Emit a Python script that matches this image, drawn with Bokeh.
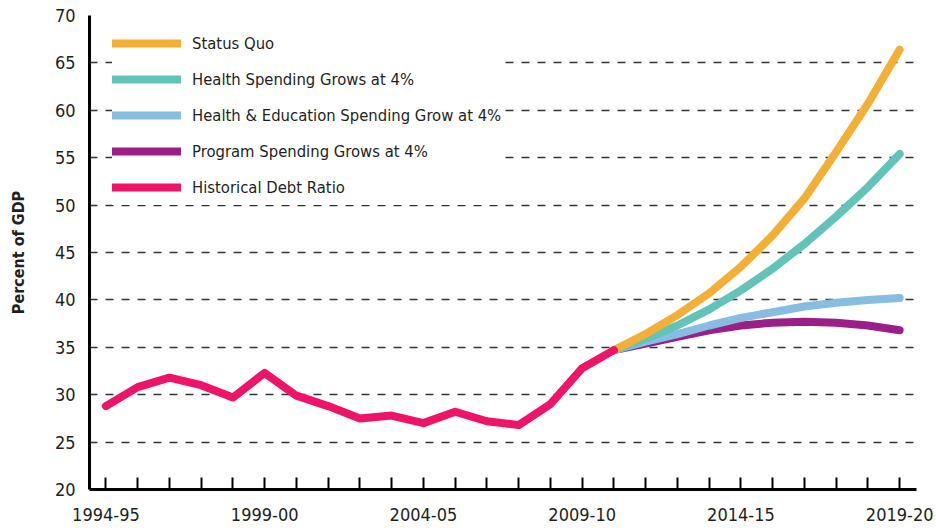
from bokeh.plotting import figure
from bokeh.models import FixedTicker, Legend, LegendItem, Range1d
from bokeh.embed import file_html
from bokeh.resources import INLINE

# ---- data ----
years = ["1994-95", "1995-96", "1996-97", "1997-98", "1998-99", "1999-00",
         "2000-01", "2001-02", "2002-03", "2003-04", "2004-05", "2005-06",
         "2006-07", "2007-08", "2008-09", "2009-10", "2010-11", "2011-12",
         "2012-13", "2013-14", "2014-15", "2015-16", "2016-17", "2017-18",
         "2018-19", "2019-20"]
labelled_years = ["1994-95", "1999-00", "2004-05", "2009-10", "2014-15", "2019-20"]
y_ticks = [20, 25, 30, 35, 40, 45, 50, 55, 60, 65, 70]

historical = [28.8, 30.8, 31.8, 31.0, 29.7, 32.3, 29.9, 28.8, 27.5, 27.8,
              27.0, 28.2, 27.2, 26.8, 29.0, 32.8, 34.7]
projection_start = "2010-11"
status_quo = [34.7, 36.4, 38.4, 40.7, 43.5, 46.8, 50.7, 55.6, 60.7, 66.4]
health_4 = [34.7, 35.9, 37.3, 39.0, 41.0, 43.3, 45.9, 48.8, 51.9, 55.4]
health_edu_4 = [34.7, 35.6, 36.4, 37.3, 38.1, 38.7, 39.3, 39.7, 40.0, 40.2]
program_4 = [34.7, 35.4, 36.1, 36.8, 37.3, 37.6, 37.7, 37.6, 37.3, 36.8]

series_names = ["Status Quo", "Health Spending Grows at 4%",
                "Health & Education Spending Grow at 4%",
                "Program Spending Grows at 4%", "Historical Debt Ratio"]
colors = {"Status Quo": "#F3AF36",
          "Health Spending Grows at 4%": "#62C4B8",
          "Health & Education Spending Grow at 4%": "#86BDE0",
          "Program Spending Grows at 4%": "#9C1F89",
          "Historical Debt Ratio": "#EE1468"}

FONT = "'DejaVu Sans Condensed', Roboto, sans-serif"
TEXT = "#231F20"

idx = {y: i for i, y in enumerate(years)}
hist_x = [idx[y] for y in years[:len(historical)]]
p0 = idx[projection_start]
proj_x = list(range(p0, p0 + len(status_quo)))

p = figure(width=936, height=531, output_backend="svg", toolbar_location=None,
           x_range=Range1d(-0.517, 25.53), y_range=Range1d(20, 70),
           min_border_left=89, min_border_right=20, min_border_top=15,
           min_border_bottom=42)
p.outline_line_color = None
p.background_fill_color = "white"

line_kw = dict(line_width=8, line_cap="round", line_join="round")
r_prog = p.line(proj_x, program_4, color=colors["Program Spending Grows at 4%"], **line_kw)
r_hedu = p.line(proj_x, health_edu_4, color=colors["Health & Education Spending Grow at 4%"], **line_kw)
r_health = p.line(proj_x, health_4, color=colors["Health Spending Grows at 4%"], **line_kw)
r_sq = p.line(proj_x, status_quo, color=colors["Status Quo"], **line_kw)
r_hist = p.line(hist_x, historical, color=colors["Historical Debt Ratio"], **line_kw)

renderers = {"Status Quo": r_sq, "Health Spending Grows at 4%": r_health,
             "Health & Education Spending Grow at 4%": r_hedu,
             "Program Spending Grows at 4%": r_prog,
             "Historical Debt Ratio": r_hist}

legend = Legend(items=[LegendItem(label=n, renderers=[renderers[n]]) for n in series_names],
                location=(23, 284), padding=0, margin=0, spacing=0,
                glyph_width=69, glyph_height=36, label_height=36,
                label_standoff=11, border_line_color=None,
                background_fill_color="white", background_fill_alpha=1,
                label_text_font=FONT, label_text_font_size="16.5px",
                label_text_color=TEXT)
p.add_layout(legend)

# axes
p.xaxis.ticker = FixedTicker(ticks=list(range(len(years))))
p.xaxis.major_label_overrides = {i: (y if y in labelled_years else "") for i, y in enumerate(years)}
p.xaxis.major_tick_in = 12
p.xaxis.major_tick_out = 0
p.xaxis.major_tick_line_width = 2
p.xaxis.major_tick_line_color = "black"
p.xaxis.minor_tick_line_color = None
p.xaxis.axis_line_width = 3
p.xaxis.axis_line_color = "black"
p.xaxis.major_label_standoff = 18
p.xaxis.major_label_text_font = FONT
p.xaxis.major_label_text_font_size = "18px"
p.xaxis.major_label_text_color = TEXT

p.yaxis.ticker = FixedTicker(ticks=y_ticks)
p.yaxis.major_tick_line_color = None
p.yaxis.minor_tick_line_color = None
p.yaxis.axis_line_width = 3
p.yaxis.axis_line_color = "black"
p.yaxis.major_label_standoff = 8
p.yaxis.major_label_text_font = FONT
p.yaxis.major_label_text_font_size = "18px"
p.yaxis.major_label_text_color = TEXT
p.yaxis.axis_label = "Percent of GDP"
p.yaxis.axis_label_text_font = FONT
p.yaxis.axis_label_text_font_style = "bold"
p.yaxis.axis_label_text_font_size = "16px"
p.yaxis.axis_label_text_color = TEXT
p.yaxis.axis_label_standoff = 24

p.xgrid.visible = False
p.ygrid.ticker = FixedTicker(ticks=y_ticks)
p.ygrid.grid_line_color = "#333333"
p.ygrid.grid_line_width = 1.5
p.ygrid.grid_line_dash = "8 8"

open("out.html", "w").write(file_html(p, INLINE))
